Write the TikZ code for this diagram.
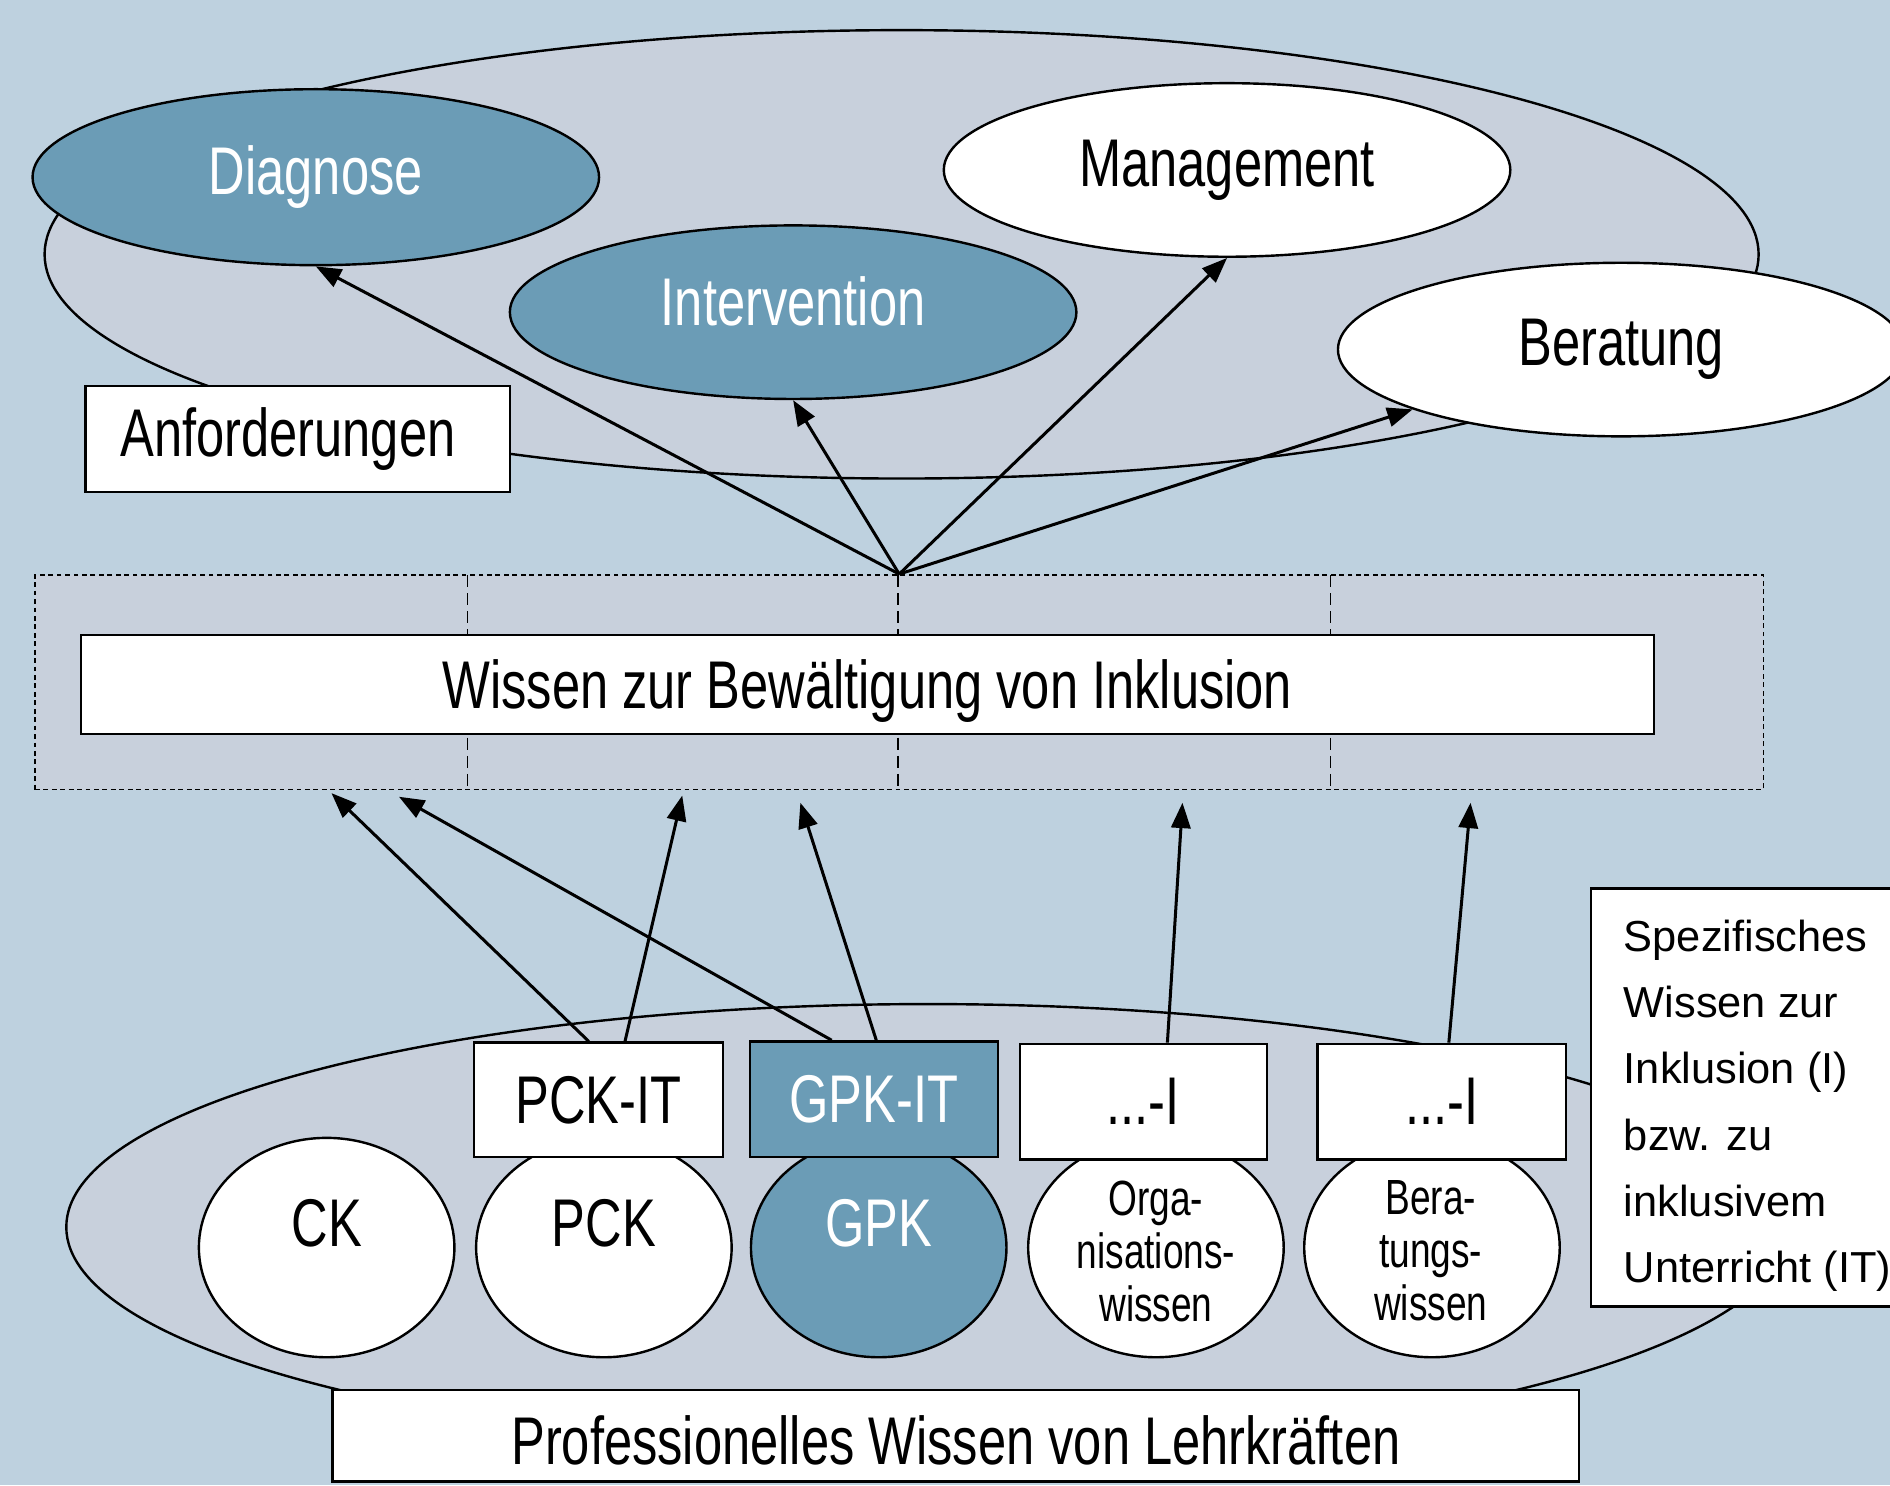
\documentclass[tikz,border=0pt]{standalone}
\usepackage{fontspec}
\setmainfont{Liberation Sans}
\newfontfamily\condf{Liberation Sans}[FakeStretch=0.75]
\newfontfamily\plainf{Liberation Sans}
\usetikzlibrary{shapes.geometric,arrows.meta,calc}
\definecolor{bgc}{RGB}{190,209,223}
\definecolor{grayc}{RGB}{200,208,220}
\definecolor{tealc}{RGB}{107,156,182}
\begin{document}
\begin{tikzpicture}[x=1pt,y=-1pt,
  ell/.style={ellipse, draw=black, line width=2pt, inner sep=0pt},
  bigfont/.style={font=\condf\fontsize{56}{60}\selectfont},
  smallfont/.style={font=\condf\fontsize{41}{44}\selectfont, align=center},
  wbox/.style={rectangle, draw=black, line width=2pt, fill=white, inner sep=0pt},
  arr/.style={-{Triangle[length=21pt,width=16pt]}, line width=2.5pt},
  divider/.style={line width=1.2pt, dash pattern=on 10pt off 5pt},
  circ/.style={ell, minimum width=212pt, minimum height=182pt},
  raised/.style={text height=40pt, text depth=42pt}]
\clip (0,0) rectangle (1568,1232);
\fill[bgc] (0,0) rectangle (1568,1232);
% upper part
\node[ell, fill=grayc, minimum width=1422pt, minimum height=372pt] (req) at (748,211) {};
\node[ell, fill=tealc, text=white, bigfont, minimum width=470pt, minimum height=146pt] (diag) at (262,147) {Diagnose};
\node[ell, fill=tealc, text=white, bigfont, text height=40pt, text depth=18pt, minimum width=470pt, minimum height=144pt] (interv) at (658,259) {Intervention};
\node[ell, fill=white, bigfont, minimum width=470pt, minimum height=144pt] (mgmt) at (1018,141) {Management};
\node[ell, fill=white, bigfont, minimum width=470pt, minimum height=144pt] (ber) at (1345,290) {Beratung};
\node[wbox, bigfont, text width=294pt, align=left, minimum width=352pt, minimum height=88pt] (anf) at (247,364) {Anforderungen};
% knowledge box
\node[draw=black, line width=1.5pt, dash pattern=on 4pt off 3pt, fill=grayc, minimum width=1434pt, minimum height=178pt, inner sep=0pt] (kbox) at (746,566) {};
\draw[divider] (388,477) -- (388,655);
\draw[divider] (745,477) -- (745,655);
\draw[divider] (1104,477) -- (1104,655);
\node[wbox, bigfont, text height=51pt, text depth=12pt, minimum width=1305pt, minimum height=82pt] (wiss) at (719.5,568) {Wissen zur Bewältigung von Inklusion};
\draw[arr] (kbox.north) -- (diag.south);
\draw[arr] (kbox.north) -- (interv.south);
\draw[arr] (kbox.north) -- (mgmt.south);
\draw[arr] (kbox.north) -- (ber.196);
% lower part
\node[ell, fill=grayc, minimum width=1430pt, minimum height=370pt] (prof) at (770,1018) {};
\node[circ, fill=white, bigfont, raised] (ck) at (271,1035) {CK};
\node[circ, fill=white, bigfont, raised] (pck) at (501,1035) {PCK};
\node[circ, fill=tealc, text=white, bigfont, raised] (gpk) at (729,1035) {GPK};
\node[circ, fill=white] (orga) at (959,1035) {};
\node[smallfont] (orgatext) at (959,1038) {Orga-\\nisations-\\wissen};
\node[circ, fill=white] (bera) at (1188,1035) {};
\node[smallfont] (beratext) at (1187,1038) {Bera-\\tungs-\\wissen};
\node[wbox, bigfont, minimum width=207pt, minimum height=95pt] (pckit) at (496.5,912.5) {PCK-IT};
\node[wbox, fill=tealc, text=white, bigfont, minimum width=206pt, minimum height=96pt] (gpkit) at (725,912) {GPK-IT};
\node[wbox, bigfont, minimum width=205pt, minimum height=96pt] (ione) at (948.5,914) {...-I};
\node[wbox, bigfont, minimum width=206pt, minimum height=96pt] (itwo) at (1196,914) {...-I};
\coordinate (t1) at (275,658);
\coordinate (t2) at (331,661);
\coordinate (t3) at (566,660);
\coordinate (t4) at (664,666);
\coordinate (t5) at (981,666);
\coordinate (t6) at (1220,666);
\draw[arr] ([xshift=-8pt]pckit.north) -- (t1);
\draw[arr] ([xshift=-35pt]gpkit.north) -- (t2);
\draw[arr] ([xshift=22pt]pckit.north) -- (t3);
\draw[arr] ([xshift=2pt]gpkit.north) -- (t4);
\draw[arr] ([xshift=20pt]ione.north) -- (t5);
\draw[arr] ([xshift=6pt]itwo.north) -- (t6);
\node[wbox, bigfont, text height=48pt, text depth=0pt, minimum width=1034pt, minimum height=76pt] (profbox) at (793,1191) {Professionelles Wissen von Lehrkräften};
\node[wbox, minimum width=260pt, minimum height=347pt] (spez) at (1450,910.5) {};
\node[anchor=north west, inner sep=0pt, align=left, font=\plainf\fontsize{36}{55}\selectfont] (speztext) at (1347,763) {Spezifisches\\Wissen zur\\Inklusion (I)\\bzw. zu\\inklusivem\\Unterricht (IT)};
\end{tikzpicture}
\end{document}
